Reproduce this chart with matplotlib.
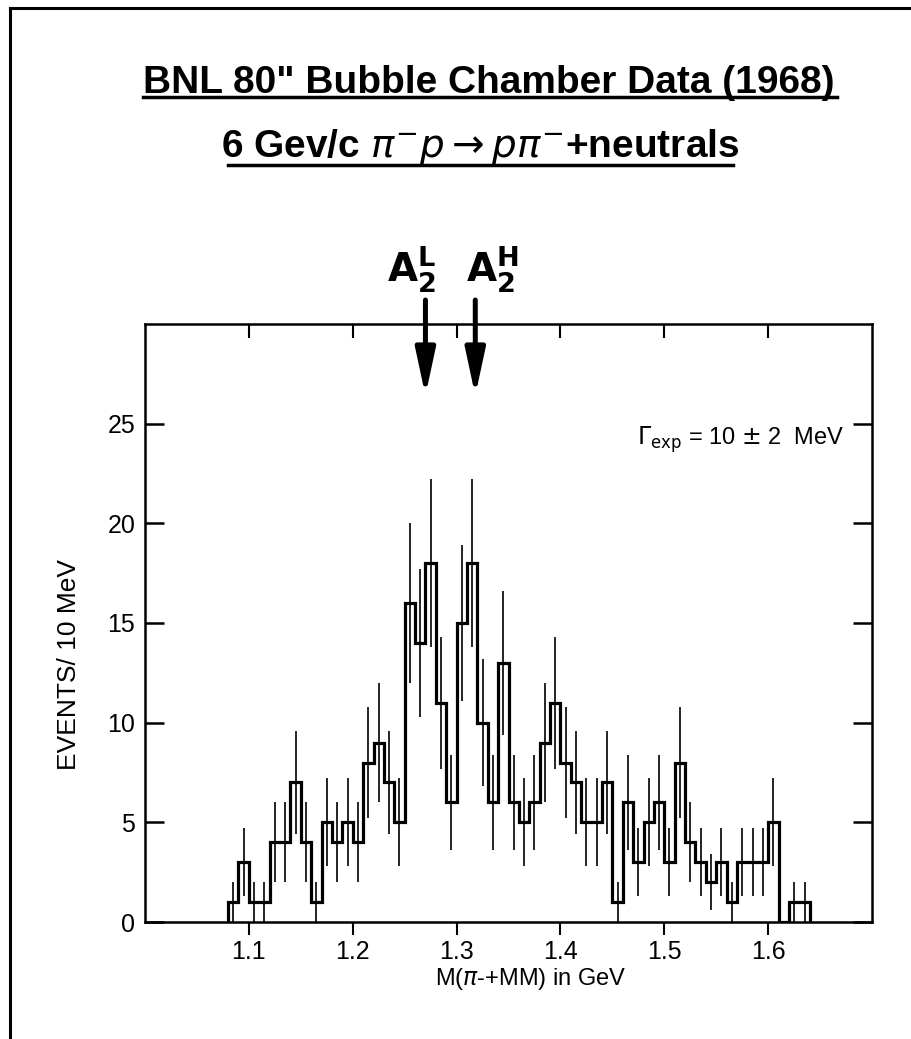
import numpy as np
import matplotlib.pyplot as plt
from matplotlib.lines import Line2D

# --- data (10 MeV bins starting at 1.08 GeV) ---
bin_lo = 1.08
bin_width = 0.01
counts = [1, 3, 1, 1, 4, 4, 7, 4, 1, 5,
          4, 5, 4, 8, 9, 7, 5, 16, 14, 18,
          11, 6, 15, 18, 10, 6, 13, 6, 5, 6,
          9, 11, 8, 7, 5, 5, 7, 1, 6, 3,
          5, 6, 3, 8, 4, 3, 2, 3, 1, 3,
          3, 3, 5, 0, 1, 1]
errors = [1.0, 1.7, 1.0, 1.0, 2.0, 2.0, 2.6, 2.0, 1.0, 2.2,
          2.0, 2.2, 2.0, 2.8, 3.0, 2.6, 2.2, 4.0, 3.7, 4.2,
          3.3, 2.4, 3.9, 4.2, 3.2, 2.4, 3.6, 2.4, 2.2, 2.4,
          3.0, 3.3, 2.8, 2.6, 2.2, 2.2, 2.6, 1.0, 2.4, 1.7,
          2.2, 2.4, 1.7, 2.8, 2.0, 1.7, 1.4, 1.7, 1.0, 1.7,
          1.7, 1.7, 2.2, 0.0, 1.0, 1.0]

x_ticks = [1.1, 1.2, 1.3, 1.4, 1.5, 1.6]
y_ticks = [0, 5, 10, 15, 20, 25]

# A2 split peaks marked by arrows
peak_masses = [1.270, 1.318]
peak_labels = [r'$\mathbf{A_2^L}$', r'$\mathbf{A_2^H}$']
label_shift = [-0.013, 0.016]

title1 = 'BNL 80" Bubble Chamber Data (1968)'
title2 = r'6 Gev/c $\pi^{-}p \rightarrow p\pi^{-}$+neutrals'

plt.rcParams['font.family'] = ['Liberation Sans', 'DejaVu Sans']

fig = plt.figure(figsize=(9.11, 10.39), dpi=100)
ax = fig.add_axes([0.1592, 0.1126, 0.798, 0.5756])

edges = bin_lo + bin_width * np.arange(len(counts) + 1)
centers = edges[:-1] + bin_width / 2

ax.stairs(counts, edges, color='black', lw=2.3, baseline=0)
ax.errorbar(centers, counts, yerr=errors, fmt='none', ecolor='black',
            elinewidth=1.2, capsize=0)

ax.set_xlim(1.0, 1.7)
ax.set_ylim(0, 30)
ax.set_xticks(x_ticks)
ax.set_xticklabels([f'{t:.1f}' for t in x_ticks])
ax.set_yticks(y_ticks)

for s in ax.spines.values():
    s.set_linewidth(1.8)

ax.tick_params(axis='y', which='major', direction='in', length=13.5, width=1.8,
               labelsize=18, pad=7, left=True, right=True)
ax.tick_params(axis='x', which='major', direction='out', length=9, width=1.5,
               labelsize=18, pad=4, bottom=True, top=False)

# inward ticks along the top edge
sec = ax.secondary_xaxis('top')
sec.set_xticks(x_ticks)
sec.tick_params(direction='in', length=10, width=1.5, labeltop=False)
sec.spines['top'].set_visible(False)

ax.set_ylabel('EVENTS/ 10 MeV', fontsize=19)
ax.yaxis.set_label_coords(-0.088, 0.43)
ax.set_xlabel(r'M($\pi$-+MM) in GeV', fontsize=17)
ax.xaxis.set_label_coords(0.531, -0.074)

ax.text(1.474, 24.2, r'$\Gamma_{\rm exp}$ = 10 $\pm$ 2  MeV', fontsize=17,
        va='center', ha='left')

for m, lab, dx in zip(peak_masses, peak_labels, label_shift):
    ax.annotate('', xy=(m, 26.4), xytext=(m, 31.2),
                arrowprops=dict(arrowstyle='-|>,head_length=1.4,head_width=0.3',
                                lw=3.6, color='black', mutation_scale=20,
                                shrinkA=0, shrinkB=0),
                annotation_clip=False)
    ax.text(m + dx, 31.45, lab, fontsize=28, ha='center', va='bottom',
            clip_on=False)

# handwritten-style heading with underlines
fig.text(0.536, 0.9105, title1, fontsize=28, fontweight='bold',
         ha='center', va='baseline')
fig.text(0.527, 0.849, title2, fontsize=28, fontweight='bold',
         ha='center', va='baseline')
fig.add_artist(Line2D([0.157, 0.919], [0.9066, 0.9066], color='black', lw=2.5,
                      transform=fig.transFigure))
fig.add_artist(Line2D([0.250, 0.805], [0.8412, 0.8412], color='black', lw=2.5,
                      transform=fig.transFigure))

# page frame (top and left edges)
fig.add_artist(Line2D([0.011, 1.0], [0.992, 0.992], color='black', lw=2.2,
                      transform=fig.transFigure))
fig.add_artist(Line2D([0.011, 0.011], [0.0, 0.992], color='black', lw=2.2,
                      transform=fig.transFigure))

fig.savefig('out.png', dpi=100)
